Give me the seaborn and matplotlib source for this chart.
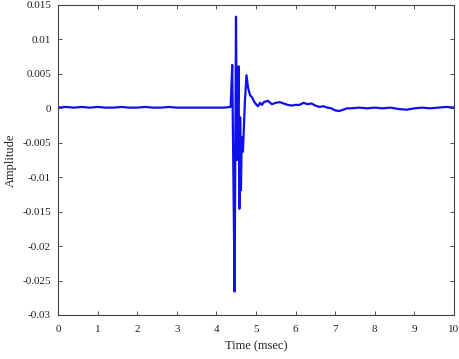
import numpy as np
import pandas as pd
import matplotlib
matplotlib.use('Agg')
import matplotlib.pyplot as plt
import seaborn as sns

# time samples (msec) and amplitude
time_ms = [0.0, 0.2, 0.4, 0.6, 0.8, 1.0, 1.2, 1.4, 1.6, 1.8, 2.0, 2.2, 2.4, 2.6, 2.8,
           3.0, 3.2, 3.4, 3.6, 3.8, 4.0, 4.2, 4.36,
           4.40, 4.43, 4.46, 4.495, 4.52, 4.56, 4.58, 4.60, 4.62, 4.64, 4.67, 4.72, 4.76,
           4.80, 4.85, 4.90, 4.95, 5.00, 5.05, 5.10, 5.15, 5.20, 5.30, 5.40, 5.50, 5.60,
           5.70, 5.80, 5.90, 6.00, 6.10, 6.20, 6.30, 6.40, 6.50, 6.60, 6.70, 6.80, 6.90,
           7.00, 7.10, 7.20, 7.30, 7.40, 7.60, 7.80, 8.00, 8.20, 8.40, 8.60, 8.80, 9.00,
           9.20, 9.40, 9.60, 9.80, 10.0]
amplitude = [0.0001, 0.0002, 0.0001, 0.0002, 0.0001, 0.0002, 0.0001, 0.0001, 0.0002, 0.0001,
             0.0001, 0.0002, 0.0001, 0.0001, 0.0002, 0.0001, 0.0001, 0.0001, 0.0001, 0.0001,
             0.0001, 0.0001, 0.0002,
             0.0063, -0.0100, -0.0266, 0.0133, -0.0075, 0.0061, -0.0146, -0.0013, -0.0119,
             -0.0042, -0.0063, 0.0010, 0.0048,
             0.0030, 0.0019, 0.0016, 0.0010, 0.0006, 0.0003, 0.0008, 0.0005, 0.0009, 0.0011,
             0.0006, 0.0008, 0.0009, 0.0007, 0.0005, 0.0004, 0.0005, 0.0005, 0.0008, 0.0006,
             0.0007, 0.0004, 0.0002, 0.0003, 0.0001, 0.0000,
             -0.0003, -0.0004, -0.0002, 0.0000, 0.0000, 0.0001, 0.0000, 0.0001, 0.0000,
             0.0001, -0.0001, -0.0002, 0.0000, 0.0001, 0.0000, 0.0001, 0.0002, 0.0001]

df = pd.DataFrame({'Time (msec)': time_ms, 'Amplitude': amplitude})

sns.set_style('white')
plt.rcParams['font.family'] = ['Liberation Serif', 'DejaVu Serif']

fig = plt.figure(figsize=(4.6, 3.59), dpi=100)
ax = fig.add_axes([0.126, 0.1226, 0.861, 0.8635])
sns.lineplot(data=df, x='Time (msec)', y='Amplitude', color='#1010e8',
             linewidth=1.6, estimator=None, sort=False, ax=ax)

ax.set_xlim(0, 10)
ax.set_ylim(-0.03, 0.015)
ax.set_xticks(np.arange(0, 11, 1))
ax.set_yticks([-0.03, -0.025, -0.02, -0.015, -0.01, -0.005, 0, 0.005, 0.01, 0.015])
ax.set_yticklabels(['-0.03', '-0.025', '-0.02', '-0.015', '-0.01', '-0.005', '0',
                    '0.005', '0.01', '0.015'])
ax.tick_params(direction='in', length=3, width=0.6, labelsize=8,
               top=True, right=True, bottom=True, left=True, colors='#333333',
               labelcolor='#222222', pad=5)
ax.tick_params(axis='x', pad=7)
for s in ax.spines.values():
    s.set_color('#444444')
    s.set_linewidth(0.8)
ax.set_xlabel('Time (msec)', fontsize=9, color='#222222', labelpad=5)
ax.set_ylabel('Amplitude', fontsize=9, color='#222222')

fig.savefig('out.png', dpi=100)
